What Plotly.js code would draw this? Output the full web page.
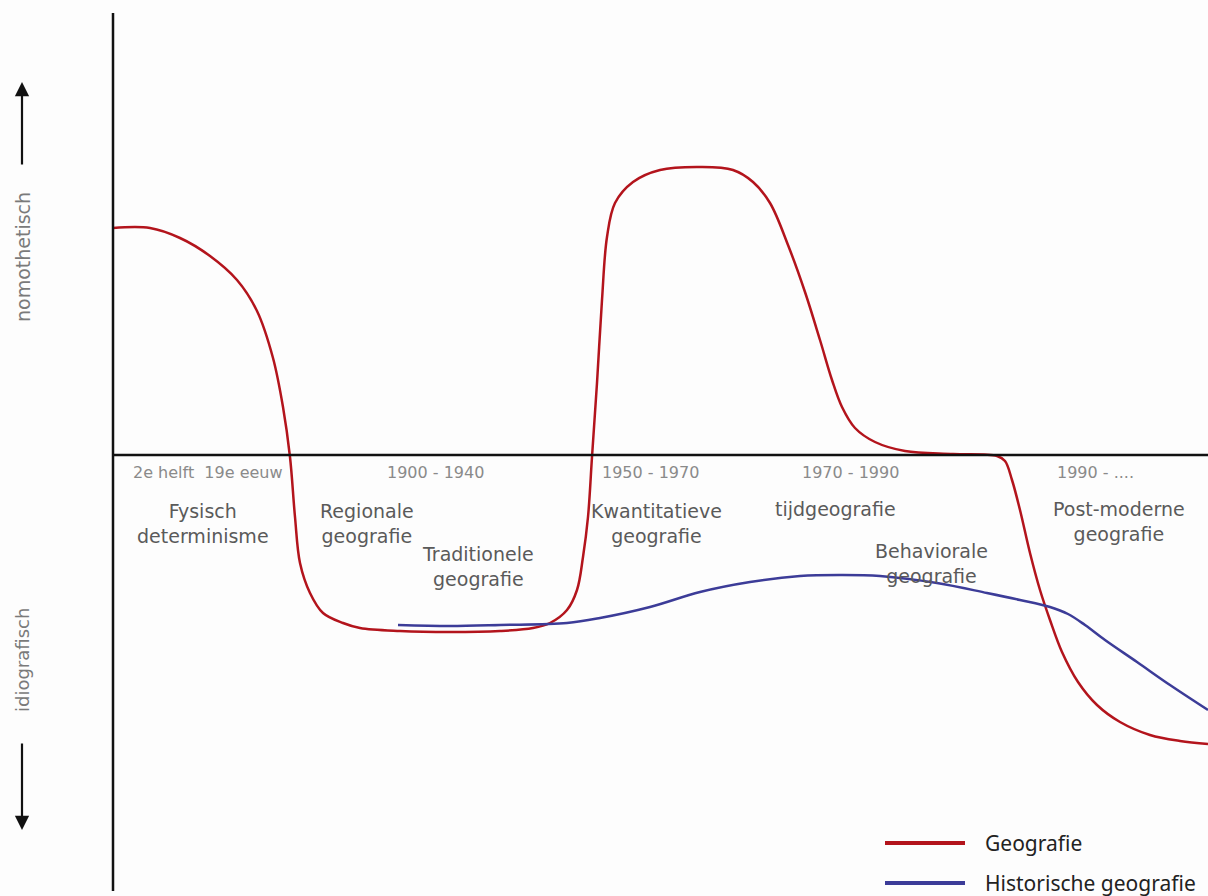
<!DOCTYPE html>
<html>
<head>
<meta charset="utf-8">
<script src="https://cdn.plot.ly/plotly-3.0.1.min.js"></script>
<style>html,body{margin:0;padding:0;background:#fff;}#chart{width:1208px;height:896px;}</style>
</head>
<body>
<div id="chart"></div>
<script>
// x: position along the time axis (arbitrary units, 0 = start of axis)
// y: score, positive = nomothetisch, negative = idiografisch
const geoX = [0,37,67,97,124,144,160,170,177,182,187,197,210,230,247,287,337,387,420,437,454,464,470,475,479,484,489,494,502,520,547,587,620,640,657,675,692,707,719,729,742,762,792,840,884,892,899,907,917,927,937,949,965,984,1007,1037,1067,1095];
const geoY = [227,227,217,199,175,144,97,48,-2,-62,-108,-138,-158,-168,-173,-176,-177,-176,-173,-168,-155,-135,-102,-62,-2,72,155,218,252,273,285,288,285,273,252,210,163,115,75,48,27,13,4,1,-1,-6,-25,-55,-98,-135,-165,-197,-227,-250,-267,-280,-286,-289];

const histX = [285,337,387,454,487,537,587,637,687,727,767,824,874,907,937,955,972,992,1024,1057,1095];
const histY = [-170,-171,-170,-168,-163,-152,-137,-127,-121,-120,-121,-128,-138,-145,-152,-159,-170,-185,-207,-230,-255];

const seriesNames = ["Geografie", "Historische geografie"];
const seriesColors = ["#b3141c", "#3c3c98"];

const periods = ["2e helft  19e eeuw", "1900 - 1940", "1950 - 1970", "1970 - 1990", "1990 - ...."];
const periodX = [95, 322, 537, 737, 982];

const schools = ["Fysisch<br>determinisme", "Regionale<br>geografie", "Traditionele<br>geografie", "Kwantitatieve<br>geografie", "tijdgeografie", "Behaviorale<br>geografie", "Post-moderne<br>geografie"];
const schoolX = [90, 254, 365, 543, 722, 818, 1006];
const schoolY = [-68, -68, -111, -68, -54, -108, -66];

const axisTop = "nomothetisch";
const axisBottom = "idiografisch";

const traces = [
  {x: geoX, y: geoY, type: "scatter", mode: "lines", name: seriesNames[0],
   line: {color: seriesColors[0], width: 2.5, shape: "spline", smoothing: 1.0}, showlegend: false, hoverinfo: "skip"},
  {x: histX, y: histY, type: "scatter", mode: "lines", name: seriesNames[1],
   line: {color: seriesColors[1], width: 2.5, shape: "spline", smoothing: 1.0}, showlegend: false, hoverinfo: "skip"}
];

const hand = "DejaVu Sans, sans-serif";
const annotations = [];
periods.forEach((p, i) => annotations.push({x: periodX[i], y: -17, xref: "x", yref: "y", text: p, showarrow: false,
  xanchor: "center", yanchor: "middle", font: {family: hand, size: 16, color: "#8a8a8a"}}));
schools.forEach((s, i) => annotations.push({x: schoolX[i], y: schoolY[i], xref: "x", yref: "y", text: s, showarrow: false,
  xanchor: "center", yanchor: "middle", font: {family: hand, size: 19, color: "#5a5a5a"}}));

// left axis descriptions
annotations.push({x: -90, y: 198, xref: "x", yref: "y", text: axisTop, textangle: -90, showarrow: false,
  font: {family: hand, size: 19, color: "#7a7a7a"}});
annotations.push({x: -91, y: -205, xref: "x", yref: "y", text: axisBottom, textangle: -90, showarrow: false,
  font: {family: hand, size: 18, color: "#7a7a7a"}});
annotations.push({x: -91, y: 373, xref: "x", yref: "y", ax: 0, ay: 84, text: "", showarrow: true,
  arrowhead: 2, arrowsize: 1.3, arrowwidth: 2.2, arrowcolor: "#111"});
annotations.push({x: -91, y: -375, xref: "x", yref: "y", ax: 0, ay: -88, text: "", showarrow: true,
  arrowhead: 2, arrowsize: 1.3, arrowwidth: 2.2, arrowcolor: "#111"});

// legend texts
annotations.push({x: 870, y: -388, xref: "x", yref: "y", text: seriesNames[0], showarrow: false, xanchor: "left", yanchor: "middle",
  font: {family: "Noto Sans, Open Sans, sans-serif", size: 21, color: "#222"}});
annotations.push({x: 870, y: -428, xref: "x", yref: "y", text: seriesNames[1], showarrow: false, xanchor: "left", yanchor: "middle",
  font: {family: "Noto Sans, Open Sans, sans-serif", size: 21, color: "#222"}});

const shapes = [
  {type: "line", xref: "x", yref: "y", x0: 0, x1: 0, y0: 442, y1: -436, line: {color: "#111", width: 2.5}},
  {type: "line", xref: "x", yref: "y", x0: 0, x1: 1095, y0: 0, y1: 0, line: {color: "#111", width: 2.5}},
  {type: "line", xref: "x", yref: "y", x0: 772, x1: 852, y0: -388, y1: -388, line: {color: seriesColors[0], width: 4}},
  {type: "line", xref: "x", yref: "y", x0: 772, x1: 852, y0: -428, y1: -428, line: {color: seriesColors[1], width: 4}}
];

const layout = {
  width: 1208, height: 896,
  margin: {l: 0, r: 0, t: 0, b: 0, pad: 0},
  paper_bgcolor: "#ffffff", plot_bgcolor: "#fdfdfd",
  xaxis: {range: [-113, 1095], visible: false, fixedrange: true},
  yaxis: {range: [-441, 455], visible: false, fixedrange: true},
  showlegend: false,
  annotations: annotations,
  shapes: shapes
};

Plotly.newPlot("chart", traces, layout, {displayModeBar: false, staticPlot: true});
</script>
</body>
</html>
